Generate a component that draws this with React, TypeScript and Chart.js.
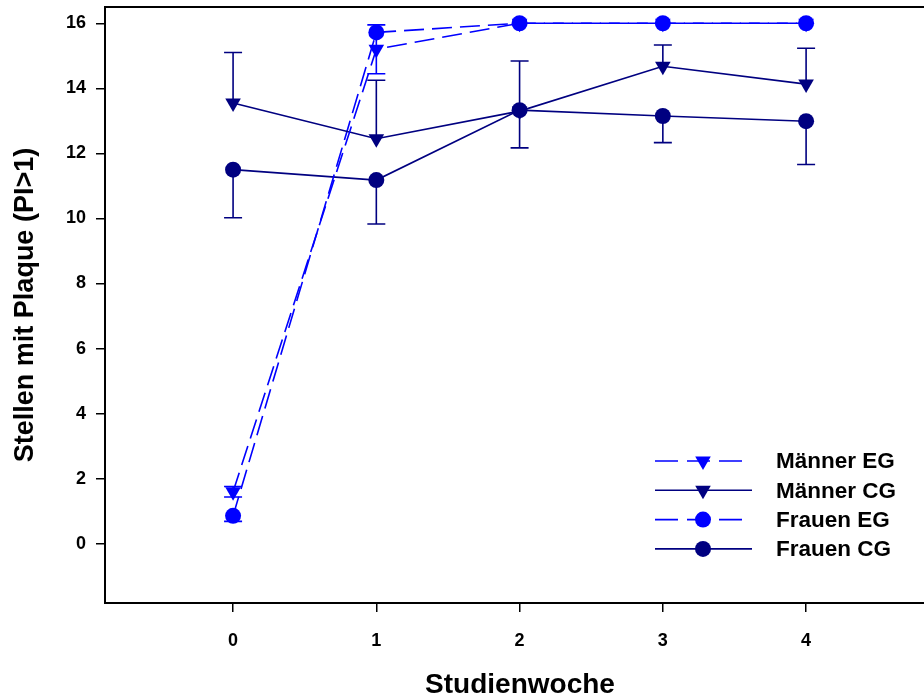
import React, { useEffect, useRef } from "react";
import { Chart, registerables } from "chart.js";

Chart.register(...registerables);

const weeks = [0, 1, 2, 3, 4];
const xTickLabels = ["0", "1", "2", "3", "4"];
const yTickValues = [0, 2, 4, 6, 8, 10, 12, 14, 16];

const seriesNames = ["Männer EG", "Männer CG", "Frauen EG", "Frauen CG"];

const maennerEG = [1.6, 15.2, 16.0, 16.0, 16.0];
const maennerEGErrUp = [0.16, 0.75, 0, 0, 0];
const maennerEGErrDown = [0.16, 0.75, 0, 0, 0];

const maennerCG = [13.55, 12.45, 13.3, 14.68, 14.13];
const maennerCGErrUp = [1.55, 1.8, 1.54, 0.65, 1.1];
const maennerCGErrDown = [0, 0, 0, 0, 0];

const frauenEG = [0.86, 15.72, 16.0, 16.0, 16.0];
const frauenEGErrUp = [0, 0, 0, 0, 0];
const frauenEGErrDown = [0.17, 0, 0, 0, 0];

const frauenCG = [11.5, 11.18, 13.33, 13.15, 12.99];
const frauenCGErrUp = [0, 0, 0, 0, 0];
const frauenCGErrDown = [1.48, 1.35, 1.16, 0.82, 1.33];

const BLUE = "#0000FF";
const NAVY = "#000080";
const DASH = [20, 8];
const FONT = "'Liberation Sans', Arial, sans-serif";

const errUp = [maennerEGErrUp, maennerCGErrUp, frauenEGErrUp, frauenCGErrUp];
const errDown = [maennerEGErrDown, maennerCGErrDown, frauenEGErrDown, frauenCGErrDown];

const errorBarPlugin = {
  id: "errorBars",
  beforeDatasetsDraw(chart: any) {
    const ctx = chart.ctx;
    const xs = chart.scales.x;
    const ys = chart.scales.y;
    chart.data.datasets.forEach((ds: any, i: number) => {
      ctx.save();
      ctx.strokeStyle = ds.borderColor;
      ctx.lineWidth = 1.6;
      ds.data.forEach((p: any, j: number) => {
        const x = xs.getPixelForValue(p.x);
        const y = ys.getPixelForValue(p.y);
        const ups = errUp[i][j];
        const dn = errDown[i][j];
        const half = 9;
        if (ups > 0) {
          const y2 = ys.getPixelForValue(p.y + ups);
          ctx.beginPath();
          ctx.moveTo(x, y);
          ctx.lineTo(x, y2);
          ctx.moveTo(x - half, y2);
          ctx.lineTo(x + half, y2);
          ctx.stroke();
        }
        if (dn > 0) {
          const y2 = ys.getPixelForValue(p.y - dn);
          ctx.beginPath();
          ctx.moveTo(x, y);
          ctx.lineTo(x, y2);
          ctx.moveTo(x - half, y2);
          ctx.lineTo(x + half, y2);
          ctx.stroke();
        }
      });
      ctx.restore();
    });
  },
};

function drawMarker(ctx: CanvasRenderingContext2D, style: string, x: number, y: number, r: number, color: string) {
  ctx.fillStyle = color;
  ctx.beginPath();
  if (style === "circle") {
    ctx.arc(x, y, r, 0, Math.PI * 2);
  } else {
    ctx.moveTo(x, y + r);
    ctx.lineTo(x - r * Math.sin(Math.PI / 3), y - r * 0.5);
    ctx.lineTo(x + r * Math.sin(Math.PI / 3), y - r * 0.5);
    ctx.closePath();
  }
  ctx.fill();
}

const decorPlugin = {
  id: "decor",
  afterDraw(chart: any) {
    const ctx = chart.ctx;
    const a = chart.chartArea;
    ctx.save();
    ctx.strokeStyle = "#000";
    ctx.lineWidth = 2;
    ctx.strokeRect(a.left, a.top, a.right - a.left, a.bottom - a.top);

    ctx.fillStyle = "#000";
    ctx.font = `bold 28px ${FONT}`;
    ctx.textAlign = "center";
    ctx.textBaseline = "middle";
    ctx.fillText("Studienwoche", 520, 685);
    ctx.save();
    ctx.translate(26, 305);
    ctx.rotate(-Math.PI / 2);
    ctx.font = `bold 27px ${FONT}`;
    ctx.fillText("Stellen mit Plaque (PI>1)", 0, 0);
    ctx.restore();

    const rowY = [461, 490.3, 519.6, 548.9];
    chart.data.datasets.forEach((ds: any, i: number) => {
      const y = rowY[i];
      ctx.save();
      ctx.strokeStyle = ds.borderColor;
      ctx.lineWidth = 1.6;
      ctx.beginPath();
      if (ds.borderDash && ds.borderDash.length) {
        ctx.setLineDash([23, 9]);
        ctx.moveTo(655, y);
        ctx.lineTo(742, y);
      } else {
        ctx.moveTo(655, y);
        ctx.lineTo(752, y);
      }
      ctx.stroke();
      ctx.restore();
      drawMarker(ctx, ds.pointStyle, 703, y, ds.pointStyle === "circle" ? 8 : 9, ds.borderColor);
      ctx.fillStyle = "#000";
      ctx.font = `bold 22.5px ${FONT}`;
      ctx.textAlign = "left";
      ctx.textBaseline = "middle";
      ctx.fillText(ds.label, 776, y + 1);
    });
    ctx.restore();
  },
};

function toPoints(vals: number[]) {
  return weeks.map((w, i) => ({ x: w, y: vals[i] }));
}

export default function App() {
  const ref = useRef<HTMLCanvasElement | null>(null);
  useEffect(() => {
    if (!ref.current) return;
    const mk = (label: string, vals: number[], color: string, dashed: boolean, style: string) => ({
      label,
      data: toPoints(vals),
      borderColor: color,
      backgroundColor: color,
      borderWidth: 1.6,
      borderDash: dashed ? DASH : [],
      pointStyle: style,
      pointRotation: style === "triangle" ? 180 : 0,
      pointRadius: style === "circle" ? 8 : 9,
      pointBorderWidth: 0,
      pointBackgroundColor: color,
      pointBorderColor: color,
      tension: 0,
      fill: false,
      clip: false as any,
    });
    const chart = new Chart(ref.current, {
      type: "line",
      data: {
        datasets: [
          mk(seriesNames[0], maennerEG, BLUE, true, "triangle"),
          mk(seriesNames[1], maennerCG, NAVY, false, "triangle"),
          mk(seriesNames[2], frauenEG, BLUE, true, "circle"),
          mk(seriesNames[3], frauenCG, NAVY, false, "circle"),
        ] as any,
      },
      options: {
        responsive: false,
        animation: false,
        devicePixelRatio: 1,
        layout: { padding: { left: 0, top: 7, right: 19, bottom: 0 }, autoPadding: false } as any,
        plugins: { legend: { display: false }, tooltip: { enabled: false } },
        scales: {
          x: {
            type: "linear",
            min: -0.894,
            max: 4.83,
            afterFit: (s: any) => {
              s.height = 96;
              s.paddingLeft = 0;
              s.paddingRight = 0;
              s.paddingTop = 0;
              s.paddingBottom = 0;
            },
            afterBuildTicks: (s: any) => {
              s.ticks = weeks.map((w) => ({ value: w }));
            },
            ticks: {
              color: "#000",
              font: { family: FONT, size: 18, weight: "bold" },
              padding: 18,
              maxRotation: 0,
              callback: (v: any) => xTickLabels[weeks.indexOf(Number(v))] ?? "",
            },
            grid: { drawOnChartArea: false, drawTicks: true, tickLength: 9, color: "#000", lineWidth: 1.5 },
            border: { display: false },
          },
          y: {
            type: "linear",
            min: -1.82,
            max: 16.5,
            afterFit: (s: any) => {
              s.width = 105;
              s.paddingTop = 0;
              s.paddingBottom = 0;
              s.paddingLeft = 0;
              s.paddingRight = 0;
            },
            afterBuildTicks: (s: any) => {
              s.ticks = yTickValues.map((v) => ({ value: v }));
            },
            ticks: {
              color: "#000",
              font: { family: FONT, size: 18, weight: "bold" },
              padding: 10,
              callback: (v: any) => String(v),
            },
            grid: { drawOnChartArea: false, drawTicks: true, tickLength: 9, color: "#000", lineWidth: 1.5 },
            border: { display: false },
          },
        },
      } as any,
      plugins: [errorBarPlugin, decorPlugin],
    });
    return () => chart.destroy();
  }, []);
  return (
    <div style={{ position: "fixed", left: 0, top: 0, width: 924, height: 699, overflow: "hidden", background: "#fff" }}>
      <canvas ref={ref} width={944} height={699} style={{ display: "block" }} />
    </div>
  );
}
